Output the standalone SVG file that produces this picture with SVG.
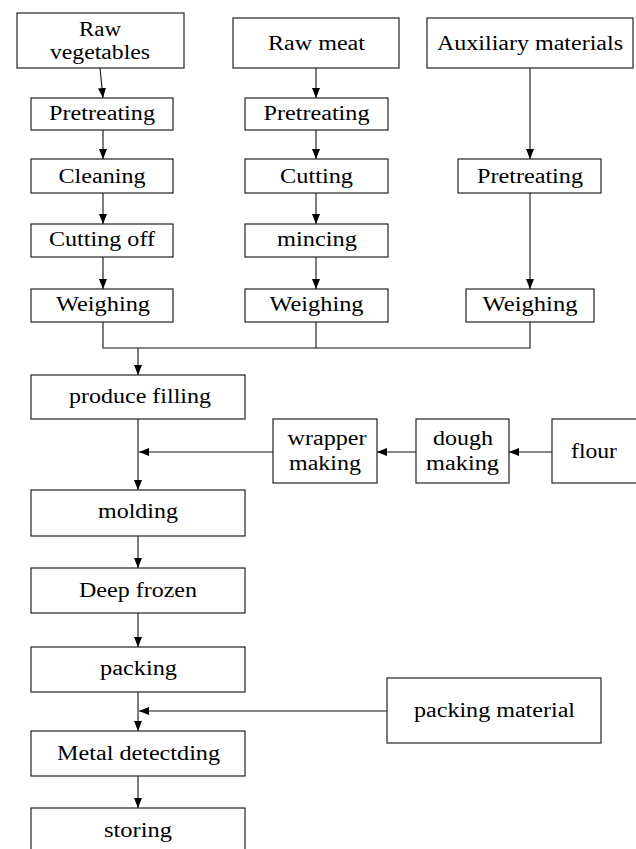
<svg xmlns="http://www.w3.org/2000/svg" width="636" height="849" viewBox="0 0 636 849">
<style>
.box{fill:#fff;stroke:#222;stroke-width:1.2}
.t{font-family:"Liberation Serif","Times New Roman",serif;font-size:20px;fill:#000;text-anchor:middle}
.ln{fill:none;stroke:#111;stroke-width:1.1}
</style>
<defs>
<marker id="arr" viewBox="0 0 10 8" refX="10" refY="4" markerWidth="10" markerHeight="8" orient="auto" markerUnits="userSpaceOnUse">
<path d="M0,0 L10,4 L0,8 z" fill="#000"/>
</marker>
</defs>
<rect width="636" height="849" fill="#fff"/>
<g id="connectors">
<line class="ln" x1="100" y1="68" x2="103" y2="98" marker-end="url(#arr)"/>
<line class="ln" x1="103" y1="130" x2="103" y2="159" marker-end="url(#arr)"/>
<line class="ln" x1="103" y1="193" x2="103" y2="224" marker-end="url(#arr)"/>
<line class="ln" x1="103" y1="257" x2="103" y2="289" marker-end="url(#arr)"/>
<line class="ln" x1="316" y1="68" x2="316" y2="98" marker-end="url(#arr)"/>
<line class="ln" x1="316" y1="130" x2="316" y2="159" marker-end="url(#arr)"/>
<line class="ln" x1="316" y1="193" x2="316" y2="224" marker-end="url(#arr)"/>
<line class="ln" x1="316" y1="257" x2="316" y2="289" marker-end="url(#arr)"/>
<line class="ln" x1="530" y1="68" x2="530" y2="159" marker-end="url(#arr)"/>
<line class="ln" x1="530" y1="193" x2="530" y2="289" marker-end="url(#arr)"/>
<polyline class="ln" points="103,322 103,348 530,348 530,322"/>
<line class="ln" x1="316" y1="322" x2="316" y2="348"/>
<line class="ln" x1="138" y1="348" x2="138" y2="375" stroke-width="1.6" marker-end="url(#arr)"/>
<line class="ln" x1="138" y1="419" x2="138" y2="490" marker-end="url(#arr)"/>
<line class="ln" x1="273" y1="452" x2="139" y2="452" marker-end="url(#arr)"/>
<line class="ln" x1="416" y1="452" x2="377" y2="452" marker-end="url(#arr)"/>
<line class="ln" x1="552" y1="452" x2="509" y2="452" marker-end="url(#arr)"/>
<line class="ln" x1="138" y1="536" x2="138" y2="568" marker-end="url(#arr)"/>
<line class="ln" x1="138" y1="613" x2="138" y2="647" marker-end="url(#arr)"/>
<line class="ln" x1="138" y1="692" x2="138" y2="731" marker-end="url(#arr)"/>
<line class="ln" x1="387" y1="711" x2="139" y2="711" marker-end="url(#arr)"/>
<line class="ln" x1="138" y1="776" x2="138" y2="808" marker-end="url(#arr)"/>
</g>
<g id="raw-vegetables"><rect class="box" x="17" y="13" width="167" height="55"/><text class="t" x="100" y="36" textLength="42" lengthAdjust="spacingAndGlyphs">Raw</text><text class="t" x="100" y="59" textLength="100" lengthAdjust="spacingAndGlyphs">vegetables</text></g>
<g id="raw-meat"><rect class="box" x="233" y="18" width="166" height="50"/><text class="t" x="316.5" y="50" textLength="97" lengthAdjust="spacingAndGlyphs">Raw meat</text></g>
<g id="auxiliary"><rect class="box" x="427" y="18" width="206" height="50"/><text class="t" x="530" y="50" textLength="186" lengthAdjust="spacingAndGlyphs">Auxiliary materials</text></g>
<g id="pretreat1"><rect class="box" x="31" y="98" width="142" height="32"/><text class="t" x="102" y="120" textLength="106" lengthAdjust="spacingAndGlyphs">Pretreating</text></g>
<g id="cleaning"><rect class="box" x="31" y="159" width="142" height="34"/><text class="t" x="102" y="183" textLength="87" lengthAdjust="spacingAndGlyphs">Cleaning</text></g>
<g id="cutting-off"><rect class="box" x="31" y="224" width="142" height="33"/><text class="t" x="102" y="246" textLength="106" lengthAdjust="spacingAndGlyphs">Cutting off</text></g>
<g id="weighing1"><rect class="box" x="31" y="289" width="142" height="33"/><text class="t" x="103" y="311" textLength="94" lengthAdjust="spacingAndGlyphs">Weighing</text></g>
<g id="pretreat2"><rect class="box" x="245" y="98" width="143" height="32"/><text class="t" x="316.5" y="120" textLength="106" lengthAdjust="spacingAndGlyphs">Pretreating</text></g>
<g id="cutting"><rect class="box" x="245" y="159" width="143" height="34"/><text class="t" x="316.5" y="183" textLength="73" lengthAdjust="spacingAndGlyphs">Cutting</text></g>
<g id="mincing"><rect class="box" x="245" y="224" width="143" height="33"/><text class="t" x="317" y="246" textLength="80" lengthAdjust="spacingAndGlyphs">mincing</text></g>
<g id="weighing2"><rect class="box" x="245" y="289" width="143" height="33"/><text class="t" x="316.5" y="311" textLength="94" lengthAdjust="spacingAndGlyphs">Weighing</text></g>
<g id="pretreat3"><rect class="box" x="458" y="159" width="143" height="34"/><text class="t" x="530" y="183" textLength="106" lengthAdjust="spacingAndGlyphs">Pretreating</text></g>
<g id="weighing3"><rect class="box" x="466" y="289" width="128" height="33"/><text class="t" x="530" y="311" textLength="95" lengthAdjust="spacingAndGlyphs">Weighing</text></g>
<g id="produce-filling"><rect class="box" x="31" y="375" width="214" height="44"/><text class="t" x="140" y="403" textLength="142" lengthAdjust="spacingAndGlyphs">produce filling</text></g>
<g id="wrapper-making"><rect class="box" x="273" y="419" width="104" height="64"/><text class="t" x="327" y="445" textLength="79" lengthAdjust="spacingAndGlyphs">wrapper</text><text class="t" x="325" y="470" textLength="72" lengthAdjust="spacingAndGlyphs">making</text></g>
<g id="dough-making"><rect class="box" x="416" y="419" width="93" height="64"/><text class="t" x="463" y="445" textLength="60" lengthAdjust="spacingAndGlyphs">dough</text><text class="t" x="462.5" y="470" textLength="73" lengthAdjust="spacingAndGlyphs">making</text></g>
<g id="flour"><rect class="box" x="552" y="419" width="100" height="64"/><text class="t" x="594" y="458" textLength="46" lengthAdjust="spacingAndGlyphs">flour</text></g>
<g id="molding"><rect class="box" x="31" y="490" width="214" height="46"/><text class="t" x="138" y="518" textLength="80" lengthAdjust="spacingAndGlyphs">molding</text></g>
<g id="deep-frozen"><rect class="box" x="31" y="568" width="214" height="45"/><text class="t" x="138" y="597" textLength="118" lengthAdjust="spacingAndGlyphs">Deep frozen</text></g>
<g id="packing"><rect class="box" x="31" y="647" width="214" height="45"/><text class="t" x="138.5" y="675" textLength="77" lengthAdjust="spacingAndGlyphs">packing</text></g>
<g id="packing-material"><rect class="box" x="387" y="678" width="214" height="65"/><text class="t" x="494.5" y="717" textLength="161" lengthAdjust="spacingAndGlyphs">packing material</text></g>
<g id="metal-detecting"><rect class="box" x="31" y="731" width="214" height="45"/><text class="t" x="138.5" y="760" textLength="163" lengthAdjust="spacingAndGlyphs">Metal detectding</text></g>
<g id="storing"><rect class="box" x="31" y="808" width="214" height="60"/><text class="t" x="138" y="837" textLength="68" lengthAdjust="spacingAndGlyphs">storing</text></g>
</svg>
